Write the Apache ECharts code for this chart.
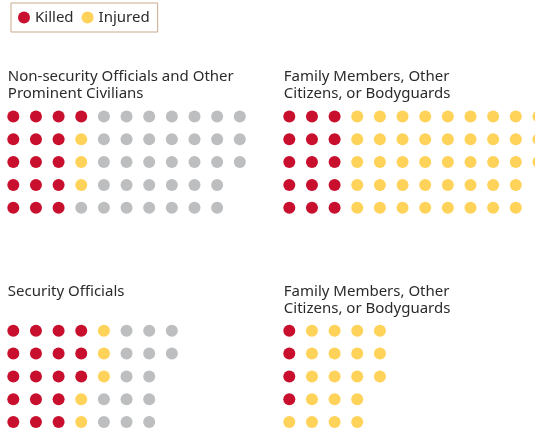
<!DOCTYPE html>
<html>
<head>
<meta charset="utf-8">
<script src="https://cdn.jsdelivr.net/npm/echarts@6/dist/echarts.min.js"></script>
<style>
  html, body { margin: 0; padding: 0; background: #fff; }
  #chart { width: 535px; height: 431px; }
</style>
</head>
<body>
<div id="chart"></div>
<script>
// one entry per panel
const panelTitles = [
    "Non-security Officials and Other\nProminent Civilians",
    "Family Members, Other\nCitizens, or Bodyguards",
    "Security Officials",
    "Family Members, Other\nCitizens, or Bodyguards"
]
const killed = [16, 15, 18, 4]
const injured = [3, 43, 5, 19]
const unharmed = [34, 0, 14, 0]

const ROWS = 5
const COLS = 10   // axis span; the extra column of the wide panel runs past the edge
const DX = 22.65
const DY = 22.8
// panel origin = centre of first dot
const origins = [[13.3, 116.5], [289.3, 116.5], [13.3, 330.8], [289.3, 330.8]]
const titleTops = [68, 68, 283, 283]
const colors = { Killed: "#c8102e", Injured: "#ffd25a", Other: "#bcbec0" }

let myChart = echarts.init(document.getElementById("chart"), null, { renderer: "canvas" })

// fill dots column by column, 5 per column
function layout(i){
    let out = { Killed: [], Injured: [], Other: [] }
    let k = 0
    let push = (name, n) => {
        for (let j = 0; j < n; j++, k++){
            out[name].push([Math.floor(k / ROWS), k % ROWS])
        }
    }
    push("Killed", killed[i])
    push("Injured", injured[i])
    push("Other", unharmed[i])
    return out
}

let grid = [], xAxis = [], yAxis = [], series = [], title = []
panelTitles.forEach((t, i) => {
    let [ox, oy] = origins[i]
    grid.push({ left: ox, top: oy, width: DX * COLS, height: DY * (ROWS - 1) })
    xAxis.push({ type: "value", gridIndex: i, min: 0, max: COLS, show: false })
    yAxis.push({ type: "value", gridIndex: i, min: 0, max: ROWS - 1, inverse: true, show: false })
    title.push({
        text: t,
        left: ox - 5.5,
        top: titleTops[i],
        padding: 0,
        textStyle: {
            fontFamily: "Noto Sans",
            fontSize: 15,
            fontWeight: "normal",
            color: "#2b2b2b",
            lineHeight: 17
        }
    })
    let pts = layout(i)
    Object.keys(pts).forEach(name => {
        series.push({
            name: name,
            type: "scatter",
            xAxisIndex: i,
            yAxisIndex: i,
            symbol: "circle",
            symbolSize: 12,
            clip: false,
            silent: true,
            itemStyle: { color: colors[name], opacity: 1 },
            data: pts[name]
        })
    })
})

let option = {
    animation: false,
    title: title,
    legend: {
        data: ["Killed", "Injured"],
        left: 11,
        top: 3,
        padding: [7, 8, 7, 7],
        itemGap: 8,
        itemWidth: 12,
        itemHeight: 12,
        icon: "circle",
        borderColor: "#c9aa8c",
        borderWidth: 1,
        textStyle: {
            fontFamily: "Noto Sans",
            fontSize: 15,
            color: "#2b2b2b"
        }
    },
    grid: grid,
    xAxis: xAxis,
    yAxis: yAxis,
    series: series
}
myChart.setOption(option)
</script>
</body>
</html>
